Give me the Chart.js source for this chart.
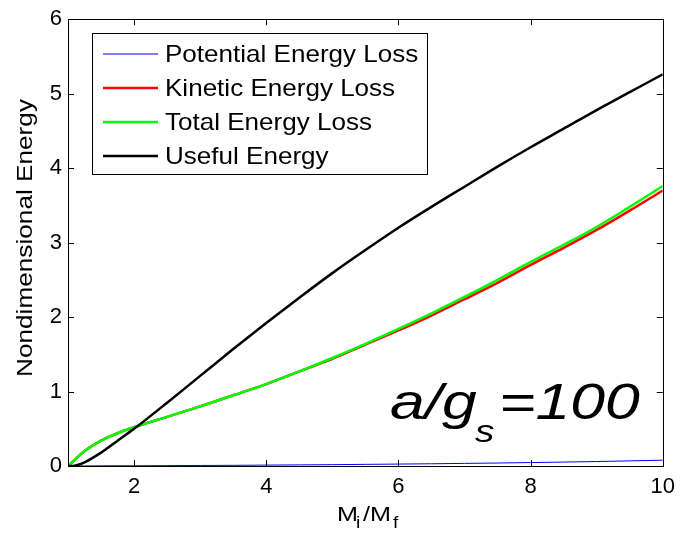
<!DOCTYPE html>
<html>
<head>
<meta charset="utf-8">
<script src="https://cdn.jsdelivr.net/npm/chart.js@4.4.1/dist/chart.umd.min.js"></script>
<style>
  html, body { margin: 0; padding: 0; background: #fff; }
  canvas { display: block; }
</style>
</head>
<body>
<canvas id="energyChart" width="683" height="537"></canvas>
<script>
// mass ratio samples
const massRatio = [1, 1.1, 1.25, 1.5, 1.75, 2, 2.5, 3, 3.5, 4, 4.5, 5, 5.5, 6, 6.5, 7, 7.5, 8, 8.5, 9, 9.5, 10];

const potentialLoss = [0, 0.001, 0.001, 0.002, 0.003, 0.003, 0.005, 0.007, 0.009, 0.012, 0.015, 0.018, 0.022, 0.026, 0.03, 0.035, 0.04, 0.046, 0.053, 0.06, 0.069, 0.078];
const kineticLoss = [0, 0.08, 0.2, 0.34, 0.44, 0.52, 0.66, 0.8, 0.95, 1.1, 1.27, 1.44, 1.63, 1.82, 2.02, 2.24, 2.46, 2.7, 2.93, 3.17, 3.43, 3.70];
const totalLoss = [0, 0.08, 0.2, 0.34, 0.44, 0.52, 0.66, 0.8, 0.95, 1.1, 1.27, 1.45, 1.64, 1.84, 2.05, 2.27, 2.5, 2.74, 2.97, 3.21, 3.48, 3.76];
const usefulEnergy = [0, 0.005, 0.05, 0.18, 0.34, 0.5, 0.85, 1.21, 1.57, 1.92, 2.26, 2.59, 2.9, 3.2, 3.48, 3.75, 4.02, 4.28, 4.53, 4.78, 5.02, 5.26];

const xTickValues = [2, 4, 6, 8, 10];
const yTickValues = [0, 1, 2, 3, 4, 5, 6];

const FONT = '"Liberation Sans", Arial, sans-serif';

function toPoints(ys) {
    return massRatio.map((x, i) => ({ x: x, y: ys[i] }));
}

function makeSeries(label, color, width, ys, order) {
    return {
        label: label,
        data: toPoints(ys),
        borderColor: color,
        backgroundColor: color,
        borderWidth: width,
        pointRadius: 0,
        cubicInterpolationMode: 'monotone',
        order: order
    };
}

// draw a run of text pieces [text, font, x, baseline], stretched sideways a bit
function drawPieces(ctx, pieces, stretch) {
    pieces.forEach(p => {
        ctx.save();
        ctx.font = p[1];
        ctx.translate(p[2], p[3]);
        ctx.scale(stretch, 1);
        ctx.fillText(p[0], 0, 0);
        ctx.restore();
    });
}

// inward ticks on all four sides, plus the box
const boxTicks = {
    id: 'boxTicks',
    afterDatasetsDraw(chart) {
        const ctx = chart.ctx;
        const a = chart.chartArea;
        const xs = chart.scales.x;
        const ys = chart.scales.y;
        const len = 6;
        ctx.save();
        ctx.strokeStyle = '#000';
        ctx.lineWidth = 1;
        ctx.beginPath();
        xTickValues.forEach(v => {
            const px = Math.round(xs.getPixelForValue(v)) + 0.5;
            ctx.moveTo(px, a.bottom);
            ctx.lineTo(px, a.bottom - len);
            ctx.moveTo(px, a.top);
            ctx.lineTo(px, a.top + len);
        });
        yTickValues.forEach(v => {
            const py = Math.round(ys.getPixelForValue(v)) + 0.5;
            ctx.moveTo(a.left, py);
            ctx.lineTo(a.left + len, py);
            ctx.moveTo(a.right, py);
            ctx.lineTo(a.right - len, py);
        });
        ctx.stroke();
        ctx.strokeRect(Math.round(a.left) + 0.5, Math.round(a.top) + 0.5,
            Math.round(a.right - a.left), Math.round(a.bottom - a.top));
        ctx.restore();
    }
};

// legend box, axis titles with subscripts, annotation
const extras = {
    id: 'extras',
    afterDraw(chart) {
        const ctx = chart.ctx;
        const a = chart.chartArea;
        ctx.save();

        // legend
        const lx = 92.5, ly = 33.5, lw = 335, lh = 141;
        ctx.fillStyle = '#fff';
        ctx.fillRect(lx, ly, lw, lh);
        ctx.strokeStyle = '#000';
        ctx.lineWidth = 1;
        ctx.strokeRect(lx, ly, lw, lh);
        ctx.textBaseline = 'middle';
        ctx.textAlign = 'left';
        chart.data.datasets.forEach((ds, i) => {
            const y = 54 + i * 34;
            ctx.strokeStyle = ds.borderColor;
            ctx.lineWidth = ds.borderWidth;
            ctx.beginPath();
            ctx.moveTo(103, y);
            ctx.lineTo(158, y);
            ctx.stroke();
            ctx.fillStyle = '#000';
            drawPieces(ctx, [[ds.label, '24px ' + FONT, 165, y + 1]], 1.085);
        });

        // y title
        ctx.fillStyle = '#000';
        ctx.save();
        ctx.translate(32, 238);
        ctx.rotate(-Math.PI / 2);
        ctx.textAlign = 'center';
        ctx.textBaseline = 'alphabetic';
        drawPieces(ctx, [['Nondimensional Energy', '22px ' + FONT, 0, 0]], 1.19);
        ctx.restore();

        // x title  M_i / M_f
        ctx.textAlign = 'left';
        ctx.textBaseline = 'alphabetic';
        const big = '21px ' + FONT, small = '16px ' + FONT;
        drawPieces(ctx, [
            ['M', big, 337, 521],
            ['i', small, 356, 528],
            ['/M', big, 363, 521],
            ['f', small, 393, 528]
        ], 1.2);

        // annotation a/g_s=100
        drawPieces(ctx, [
            ['a/g', 'italic 50px ' + FONT, 390, 419],
            ['s', 'italic 31px ' + FONT, 475, 442],
            ['=100', 'italic 50px ' + FONT, 499, 419]
        ], 1.25);

        ctx.restore();
    }
};

new Chart(document.getElementById('energyChart'), {
    type: 'line',
    data: {
        datasets: [
            makeSeries('Potential Energy Loss', '#0000ff', 1, potentialLoss, 3),
            makeSeries('Kinetic Energy Loss', '#ff0000', 2.5, kineticLoss, 2),
            makeSeries('Total Energy Loss', '#00ff00', 2.5, totalLoss, 1),
            makeSeries('Useful Energy', '#000000', 2.5, usefulEnergy, 0)
        ]
    },
    options: {
        responsive: false,
        animation: false,
        layout: { padding: { top: 19, right: 15, left: 0, bottom: 0 } },
        plugins: {
            legend: { display: false },
            tooltip: { enabled: false }
        },
        scales: {
            x: {
                type: 'linear',
                min: 1,
                max: 10,
                afterBuildTicks: s => { s.ticks = xTickValues.map(v => ({ value: v })); },
                afterFit: s => { s.height = 71; },
                grid: { display: false, drawTicks: false },
                border: { display: false },
                ticks: {
                    color: '#000',
                    padding: 8,
                    maxRotation: 0,
                    font: { family: FONT, size: 22 }
                }
            },
            y: {
                type: 'linear',
                min: 0,
                max: 6,
                afterBuildTicks: s => { s.ticks = yTickValues.map(v => ({ value: v })); },
                afterFit: s => { s.width = 68; },
                grid: { display: false, drawTicks: false },
                border: { display: false },
                ticks: {
                    color: '#000',
                    padding: 6,
                    font: { family: FONT, size: 22 }
                }
            }
        }
    },
    plugins: [boxTicks, extras]
});
</script>
</body>
</html>
